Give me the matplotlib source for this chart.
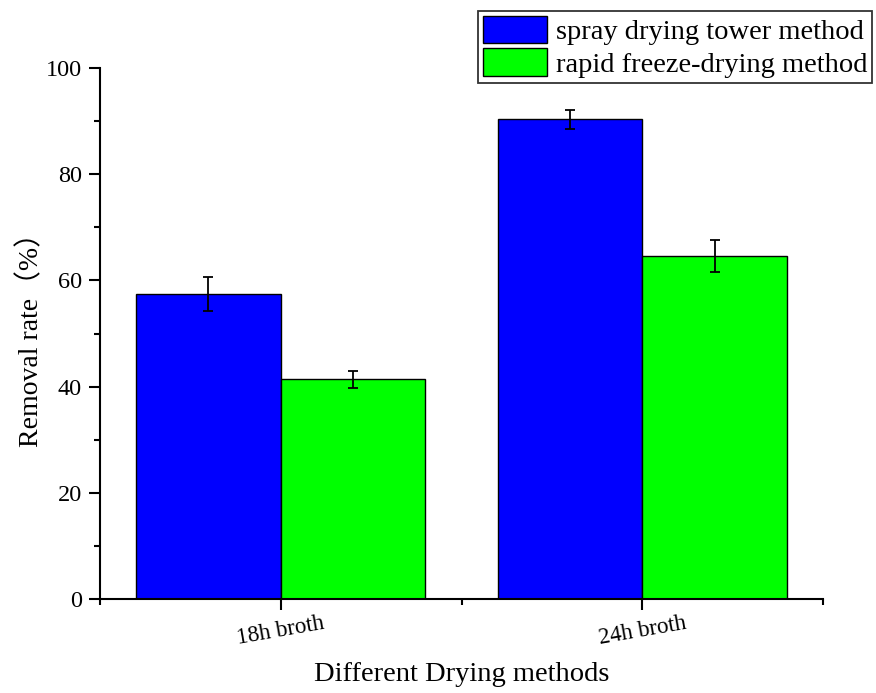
import numpy as np
import matplotlib
matplotlib.use("Agg")
import matplotlib.pyplot as plt
from matplotlib.ticker import FixedLocator

plt.rcParams["font.family"] = ["Liberation Serif", "Noto Sans CJK SC"]

# data
groups = ["18h broth", "24h broth"]
series = ["spray drying tower method", "rapid freeze-drying method"]
spray_vals = [57.4, 90.3]
spray_err = [3.2, 1.75]
freeze_vals = [41.4, 64.6]
freeze_err = [1.6, 3.0]
colors = ["#0000FF", "#00FF00"]

fig = plt.figure(figsize=(8.76, 6.93), dpi=100)
ax = fig.add_axes([0.1142, 0.1352, 0.8253, 0.7671])

x = np.arange(1, len(groups) + 1)
w = 0.4
ekw = dict(ecolor="black", elinewidth=1.3, capsize=3.6, capthick=1.3)
ax.bar(x - w / 2, spray_vals, w, yerr=spray_err, color=colors[0],
       edgecolor="black", linewidth=1.0, label=series[0], error_kw=ekw)
ax.bar(x + w / 2, freeze_vals, w, yerr=freeze_err, color=colors[1],
       edgecolor="black", linewidth=1.0, label=series[1], error_kw=ekw)

ax.set_xlim(0.5, 2.5)
ax.set_ylim(0, 100)
ax.spines["top"].set_visible(False)
ax.spines["right"].set_visible(False)
for s in ("left", "bottom"):
    ax.spines[s].set_linewidth(1.5)

ax.set_xticks(x)
ax.set_xticklabels(groups, rotation=10, fontsize=16.5)
ax.xaxis.set_minor_locator(FixedLocator([0.5, 1.5, 2.5]))
ax.set_yticks(np.arange(0, 101, 20))
ax.yaxis.set_minor_locator(FixedLocator(np.arange(10, 100, 20)))
ax.tick_params(axis="both", which="major", direction="out", length=8, width=1.5)
ax.tick_params(axis="y", which="major", labelsize=17.5, pad=5)
ax.tick_params(axis="both", which="minor", direction="out", length=4, width=1.5)
ax.tick_params(axis="x", which="major", pad=2)
for lbl in ax.get_xticklabels():
    lbl.set_x(lbl.get_position()[0] + 0.01)

ax.set_xlabel("Different Drying methods", fontsize=20.5, labelpad=9)
ax.set_ylabel("Removal rate（%）", fontsize=20, labelpad=1)

leg = fig.legend(loc="upper left", bbox_to_anchor=(478 / 876, 1 - 11 / 693),
                 fontsize=20.5, frameon=True, fancybox=False, edgecolor="black",
                 handlelength=2.25, handleheight=1.1, labelspacing=0.1,
                 borderpad=0.18, handletextpad=0.3, borderaxespad=0)
leg.get_frame().set_linewidth(1.3)

fig.savefig("out.png", dpi=100)
